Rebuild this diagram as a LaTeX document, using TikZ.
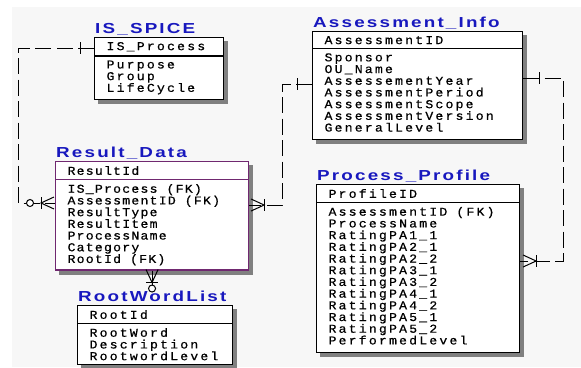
\documentclass[tikz,border=0pt]{standalone}
\usepackage{fontspec}
\usepackage{xcolor}
\usetikzlibrary{shapes.multipart,backgrounds,positioning}
\newfontfamily\attrfont{Liberation Mono}[FakeStretch=1.1,LetterSpace=18,FakeBold=0.6]
\newfontfamily\titlefont{Liberation Sans}[FakeStretch=1.3,LetterSpace=15]
\definecolor{erblue}{RGB}{24,24,190}
\definecolor{erpurple}{RGB}{112,40,112}
\definecolor{bggray}{RGB}{247,247,247}
\newcommand\fk{\hspace{9pt}(FK)}

\begin{document}
\begin{tikzpicture}[x=1pt,y=-1pt,
    entity/.style={rectangle split,rectangle split parts=2,draw,line width=1.1pt,
      fill=white,inner xsep=12pt,inner ysep=4pt,align=left,anchor=north west,
      font=\attrfont\fontsize{12}{11.7}\selectfont},
    title/.style={anchor=base west,inner sep=0pt,text=erblue,
      font=\titlefont\bfseries\fontsize{14.5}{14.5}\selectfont},
    rel/.style={line width=1pt,dash pattern=on 16pt off 5.5pt},
    one/.pic={\draw[line width=1pt] (0,-6) -- (0,6);},
    zero/.pic={\draw[line width=1pt,fill=white] (0,0) circle (3.5);},
    many/.pic={\draw[line width=1pt] (13,-6) -- (0,0) -- (13,6);}]

  \useasboundingbox (0,0) rectangle (581,367);

  % entities
  \node[entity,text width=105pt] (ispice) at (94,37)
    {IS\_Process \nodepart{two} Purpose\\Group\\LifeCycle\strut};
  \node[entity,text width=186pt] (assess) at (312,31)
    {AssessmentID \nodepart{two} Sponsor\\OU\_Name\\AssessementYear\\
     AssessmentPeriod\\AssessmentScope\\AssessmentVersion\\GeneralLevel\strut};
  \node[entity,draw=erpurple,text width=169pt] (result) at (55,161)
    {\addfontfeatures{LetterSpace=10}ResultId \nodepart{two}
     \addfontfeatures{LetterSpace=10}IS\_Process\fk\\AssessmentID\fk\\
     ResultType\\ResultItem\\ProcessName\\Category\\RootId\fk};
  \node[entity,text width=131pt] (rootword) at (77,305)
    {RootId \nodepart{two} RootWord\\Description\\RootwordLevel};
  \node[entity,text width=179pt] (proc) at (316,184)
    {ProfileID \nodepart{two} AssessmentID\fk\\ProcessName\\
     RatingPA1\_1\\RatingPA2\_1\\RatingPA2\_2\\RatingPA3\_1\\RatingPA3\_2\\
     RatingPA4\_1\\RatingPA4\_2\\RatingPA5\_1\\RatingPA5\_2\\PerformedLevel\strut};

  % background and shadows
  \begin{scope}[on background layer]
    \fill[white] (0,0) rectangle (581,367);
    \fill[bggray] (12,7) rectangle (581,367);
    \foreach \e in {ispice,assess,result,rootword,proc}
      \fill[black!50] ([shift={(4pt,-4pt)}]\e.south west)
        rectangle ([shift={(4pt,-4pt)}]\e.north east);
  \end{scope}

  % titles
  \node[title] (ispicetitle) at ([xshift=1pt,yshift=4pt]ispice.north west) {IS\_SPICE};
  \node[title] (assesstitle) at ([xshift=1pt,yshift=4pt]assess.north west) {Assessment\_Info};
  \node[title] (resulttitle) at ([xshift=1pt,yshift=4pt]result.north west) {Result\_Data};
  \node[title] (rwtitle) at ([xshift=1pt,yshift=4pt]rootword.north west) {RootWordList};
  \node[title] (proctitle) at ([xshift=1pt,yshift=4pt]proc.north west) {Process\_Profile};

  % relationships
  \draw[rel] ([yshift=-11pt]ispice.north west) -- ++(-76,0)
    |- ([yshift=-42pt]result.north west);
  \pic at ([xshift=-14pt,yshift=-11pt]ispice.north west) {one};
  \pic at ([xshift=-14pt,yshift=-42pt]result.north west) {many};
  \pic at ([xshift=-14pt,yshift=-42pt]result.north west) {one};
  \pic at ([xshift=-25pt,yshift=-42pt]result.north west) {zero};

  \draw[rel] ([yshift=-53pt]assess.north west) -- ++(-30,0)
    |- ([yshift=-44pt]result.north east);
  \pic at ([xshift=-15pt,yshift=-53pt]assess.north west) {one};
  \pic[rotate=180] at ([xshift=15pt,yshift=-44pt]result.north east) {many};
  \pic at ([xshift=15pt,yshift=-44pt]result.north east) {one};

  \draw[rel] ([yshift=-47pt]assess.north east) -- ++(40,0)
    |- ([yshift=-77pt]proc.north east);
  \pic at ([xshift=16pt,yshift=-47pt]assess.north east) {one};
  \pic[rotate=180] at ([xshift=16pt,yshift=-77pt]proc.north east) {many};
  \pic at ([xshift=16pt,yshift=-77pt]proc.north east) {one};

  \draw[line width=1pt] (result.south) -- (result.south |- rwtitle.north);
  \pic[rotate=90] at ([yshift=-12pt]result.south) {many};
  \pic[rotate=90] at ([yshift=-12pt]result.south) {one};
  \pic at ([yshift=-18pt]result.south) {zero};
\end{tikzpicture}
\end{document}
